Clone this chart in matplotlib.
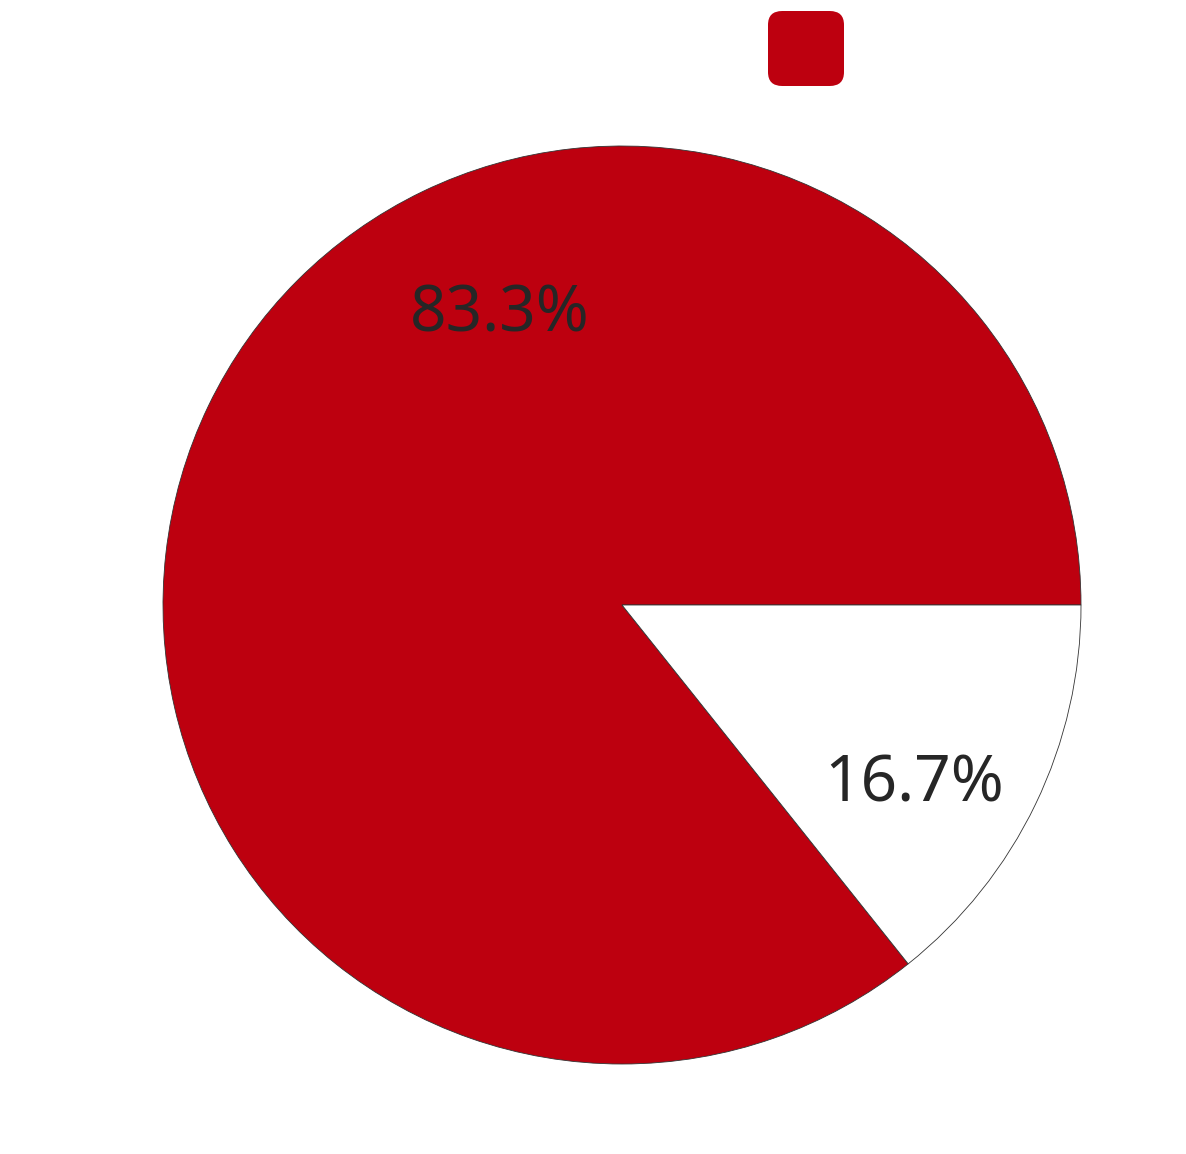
import matplotlib
matplotlib.use("Agg")
import numpy as np
from matplotlib import pyplot as plt
from matplotlib.patches import FancyBboxPatch

labels = ["A", "B"]
shares = ["83.3%", "16.7%"]          # printed labels
sizes = [6, 1]                       # wedge sizes as drawn in the picture
colors = ["#BD000F", "#FFFFFF"]
label_pos = [(0.686, 112.9), (0.748, -31.6)]   # (radius, angle) of labels

fig = plt.figure(figsize=(11.86, 11.54), dpi=100)
W, H = 1186, 1154
cx, cy, r = 622, 1154 - 605, 459
ax = fig.add_axes([(cx - r) / W, (cy - r) / H, 2 * r / W, 2 * r / H])

wedges, texts = ax.pie(sizes, colors=colors, startangle=0, counterclock=True,
                       wedgeprops=dict(edgecolor="#333333", linewidth=0.6))
for s, (rr, a) in zip(shares, label_pos):
    t = np.deg2rad(a)
    ax.text(rr * np.cos(t), rr * np.sin(t), s, ha="center", va="center",
            fontsize=46, color="#262626", family="Noto Sans")
ax.set_xlim(-1, 1)
ax.set_ylim(-1, 1)

# legend swatch (label not visible)
sw = FancyBboxPatch((768 / W, (1154 - 86) / H), 76 / W, 75 / H,
                    boxstyle="round,pad=0,rounding_size=0.012",
                    transform=fig.transFigure, facecolor="#BD000F", edgecolor="none")
fig.patches.append(sw)

fig.savefig("out.png", dpi=100)
